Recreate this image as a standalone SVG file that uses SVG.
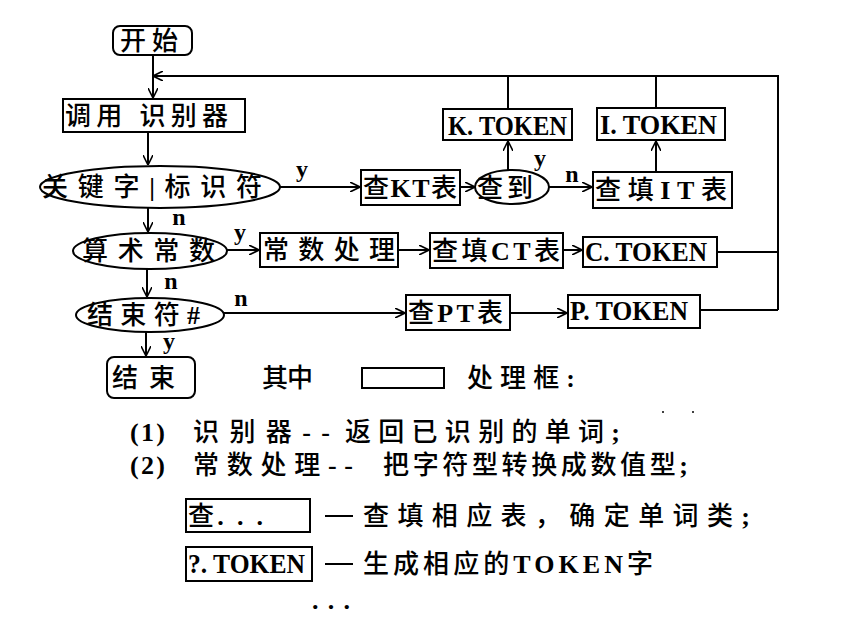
<svg xmlns="http://www.w3.org/2000/svg" width="864" height="624" viewBox="0 0 864 624">
<style>
.b{fill:none;stroke:#000;stroke-width:2}
.t{font-family:"Liberation Serif","Noto Sans CJK SC",serif;font-size:26px;font-weight:500;dominant-baseline:central;fill:#000}
.t tspan,.w{font-weight:bold}
.m{font-family:"Liberation Serif","Noto Sans CJK SC",serif;font-size:27px;font-weight:bold;dominant-baseline:central;fill:#000}
.l{font-family:"Liberation Serif",serif;font-size:24px;font-weight:bold;fill:#000;text-anchor:middle}
.c line,.c polyline{stroke:#000;stroke-width:2;fill:none}
</style>
<defs>
<marker id="a" viewBox="0 0 10 10" refX="10" refY="5" markerWidth="10" markerHeight="10" markerUnits="userSpaceOnUse" orient="auto">
<path d="M0,0 L10,5 L0,10" fill="none" stroke="#000" stroke-width="1.6"/>
</marker>
</defs>
<rect width="864" height="624" fill="#fff"/>

<g id="start"><rect class="b" x="113" y="26" width="79" height="29" rx="7"/><text class="t" x="120" y="41" textLength="58">开始</text></g>
<g id="call"><rect class="b" x="63" y="99" width="182" height="33"/><text class="t" x="65" y="116" textLength="163">调用 识别器</text></g>
<g id="kwid"><ellipse class="b" cx="160" cy="187" rx="120" ry="21"/><text class="t" x="42" y="187" font-size="29" textLength="220">关键字<tspan>|</tspan>标识符</text></g>
<g id="kt"><rect class="b" x="361" y="170" width="99" height="35"/><text class="t" x="363" y="188" textLength="94">查<tspan>KT</tspan>表</text></g>
<g id="found"><ellipse class="b" cx="512" cy="187" rx="37" ry="17"/><text class="t" x="477" y="188" textLength="56">查到</text></g>
<g id="ktoken"><rect class="b" x="443" y="109" width="129" height="31"/><text class="m" x="448" y="126" textLength="119" lengthAdjust="spacingAndGlyphs">K. TOKEN</text></g>
<g id="itoken"><rect class="b" x="597" y="108" width="128" height="32"/><text class="m" x="600" y="125" textLength="117" lengthAdjust="spacingAndGlyphs">I. TOKEN</text></g>
<g id="it"><rect class="b" x="593" y="172" width="139" height="36"/><text class="t" x="595" y="190" textLength="132">查填<tspan>IT</tspan>表</text></g>
<g id="const"><ellipse class="b" cx="150" cy="251" rx="77" ry="18"/><text class="t" x="82" y="251" textLength="133">算术常数</text></g>
<g id="cproc"><rect class="b" x="260" y="233" width="138" height="34"/><text class="t" x="263" y="250" textLength="132">常数处理</text></g>
<g id="ct"><rect class="b" x="430" y="233" width="133" height="35"/><text class="t" x="432" y="251" textLength="128">查填<tspan>CT</tspan>表</text></g>
<g id="ctoken"><rect class="b" x="583" y="237" width="134" height="30"/><text class="m" x="585" y="252" textLength="122" lengthAdjust="spacingAndGlyphs">C. TOKEN</text></g>
<g id="endsym"><ellipse class="b" cx="150" cy="315" rx="74" ry="17"/><text class="t" x="87" y="315" textLength="113">结束符<tspan>#</tspan></text></g>
<g id="pt"><rect class="b" x="406" y="295" width="104" height="35"/><text class="t" x="408" y="313" textLength="95">查<tspan>PT</tspan>表</text></g>
<g id="ptoken"><rect class="b" x="568" y="295" width="132" height="33"/><text class="m" x="570" y="311" textLength="118" lengthAdjust="spacingAndGlyphs">P. TOKEN</text></g>
<g id="end"><rect class="b" x="107" y="357" width="88" height="41" rx="7"/><text class="t" x="112" y="378" textLength="63">结束</text></g>

<g id="connectors" class="c">
<line x1="153" y1="55" x2="153" y2="98" marker-end="url(#a)"/>
<polyline points="778,310 778,76 153,76" marker-end="url(#a)"/>
<line x1="508" y1="109" x2="508" y2="76"/>
<line x1="656" y1="108" x2="656" y2="76"/>
<line x1="717" y1="252" x2="778" y2="252"/>
<line x1="700" y1="310" x2="778" y2="310"/>
<line x1="148" y1="132" x2="148" y2="165" marker-end="url(#a)"/>
<line x1="280" y1="187" x2="360" y2="187" marker-end="url(#a)"/>
<line x1="460" y1="187" x2="475" y2="187" marker-end="url(#a)"/>
<line x1="508" y1="170" x2="508" y2="141" marker-end="url(#a)"/>
<line x1="549" y1="187" x2="592" y2="187" marker-end="url(#a)"/>
<line x1="656" y1="172" x2="656" y2="141" marker-end="url(#a)"/>
<line x1="148" y1="208" x2="148" y2="232" marker-end="url(#a)"/>
<line x1="227" y1="250" x2="259" y2="250" marker-end="url(#a)"/>
<line x1="398" y1="250" x2="429" y2="250" marker-end="url(#a)"/>
<line x1="563" y1="250" x2="582" y2="250" marker-end="url(#a)"/>
<line x1="147" y1="269" x2="147" y2="297" marker-end="url(#a)"/>
<line x1="224" y1="313" x2="405" y2="313" marker-end="url(#a)"/>
<line x1="510" y1="313" x2="567" y2="313" marker-end="url(#a)"/>
<line x1="146" y1="332" x2="146" y2="356" marker-end="url(#a)"/>
</g>
<g id="labels">
<text class="l" x="302" y="177">y</text>
<text class="l" x="540" y="166">y</text>
<text class="l" x="572" y="182">n</text>
<text class="l" x="179" y="225">n</text>
<text class="l" x="240" y="240">y</text>
<text class="l" x="171" y="289">n</text>
<text class="l" x="241" y="306">n</text>
<text class="l" x="169" y="349">y</text>
</g>

<g id="legend">
<text class="t" x="262" y="378" textLength="51">其中</text>
<rect class="b" x="362" y="368" width="82" height="20"/>
<text class="t" x="467" y="378" textLength="108">处理框<tspan>:</tspan></text>
<text class="t w" x="130" y="432" textLength="35">(1)</text>
<text class="t" x="193" y="432" textLength="137">识别器<tspan>--</tspan></text>
<text class="t" x="345" y="432" textLength="275">返回已识别的单词<tspan>;</tspan></text>
<circle cx="663" cy="412" r="1"/><circle cx="693" cy="412" r="1"/>
<text class="t w" x="130" y="465" textLength="35">(2)</text>
<text class="t" x="193" y="465" textLength="160">常数处理<tspan>--</tspan></text>
<text class="t" x="383" y="465" textLength="305">把字符型转换成数值型<tspan>;</tspan></text>
<rect class="b" x="186" y="499" width="124" height="33"/>
<text class="t" x="188" y="516" textLength="75">查<tspan>. . .</tspan></text>
<line x1="325" y1="516" x2="353" y2="516" stroke="#000" stroke-width="2"/>
<text class="t" x="363" y="516" textLength="387">查填相应表，确定单词类<tspan>;</tspan></text>
<rect class="b" x="186" y="547" width="126" height="34"/>
<text class="m" x="188" y="564" textLength="117" lengthAdjust="spacingAndGlyphs">?. TOKEN</text>
<line x1="325" y1="564" x2="353" y2="564" stroke="#000" stroke-width="2"/>
<text class="t" x="363" y="564" textLength="290">生成相应的<tspan>TOKEN</tspan>字</text>
<text class="t w" x="312" y="600" textLength="38">. . .</text>
</g>
</svg>
